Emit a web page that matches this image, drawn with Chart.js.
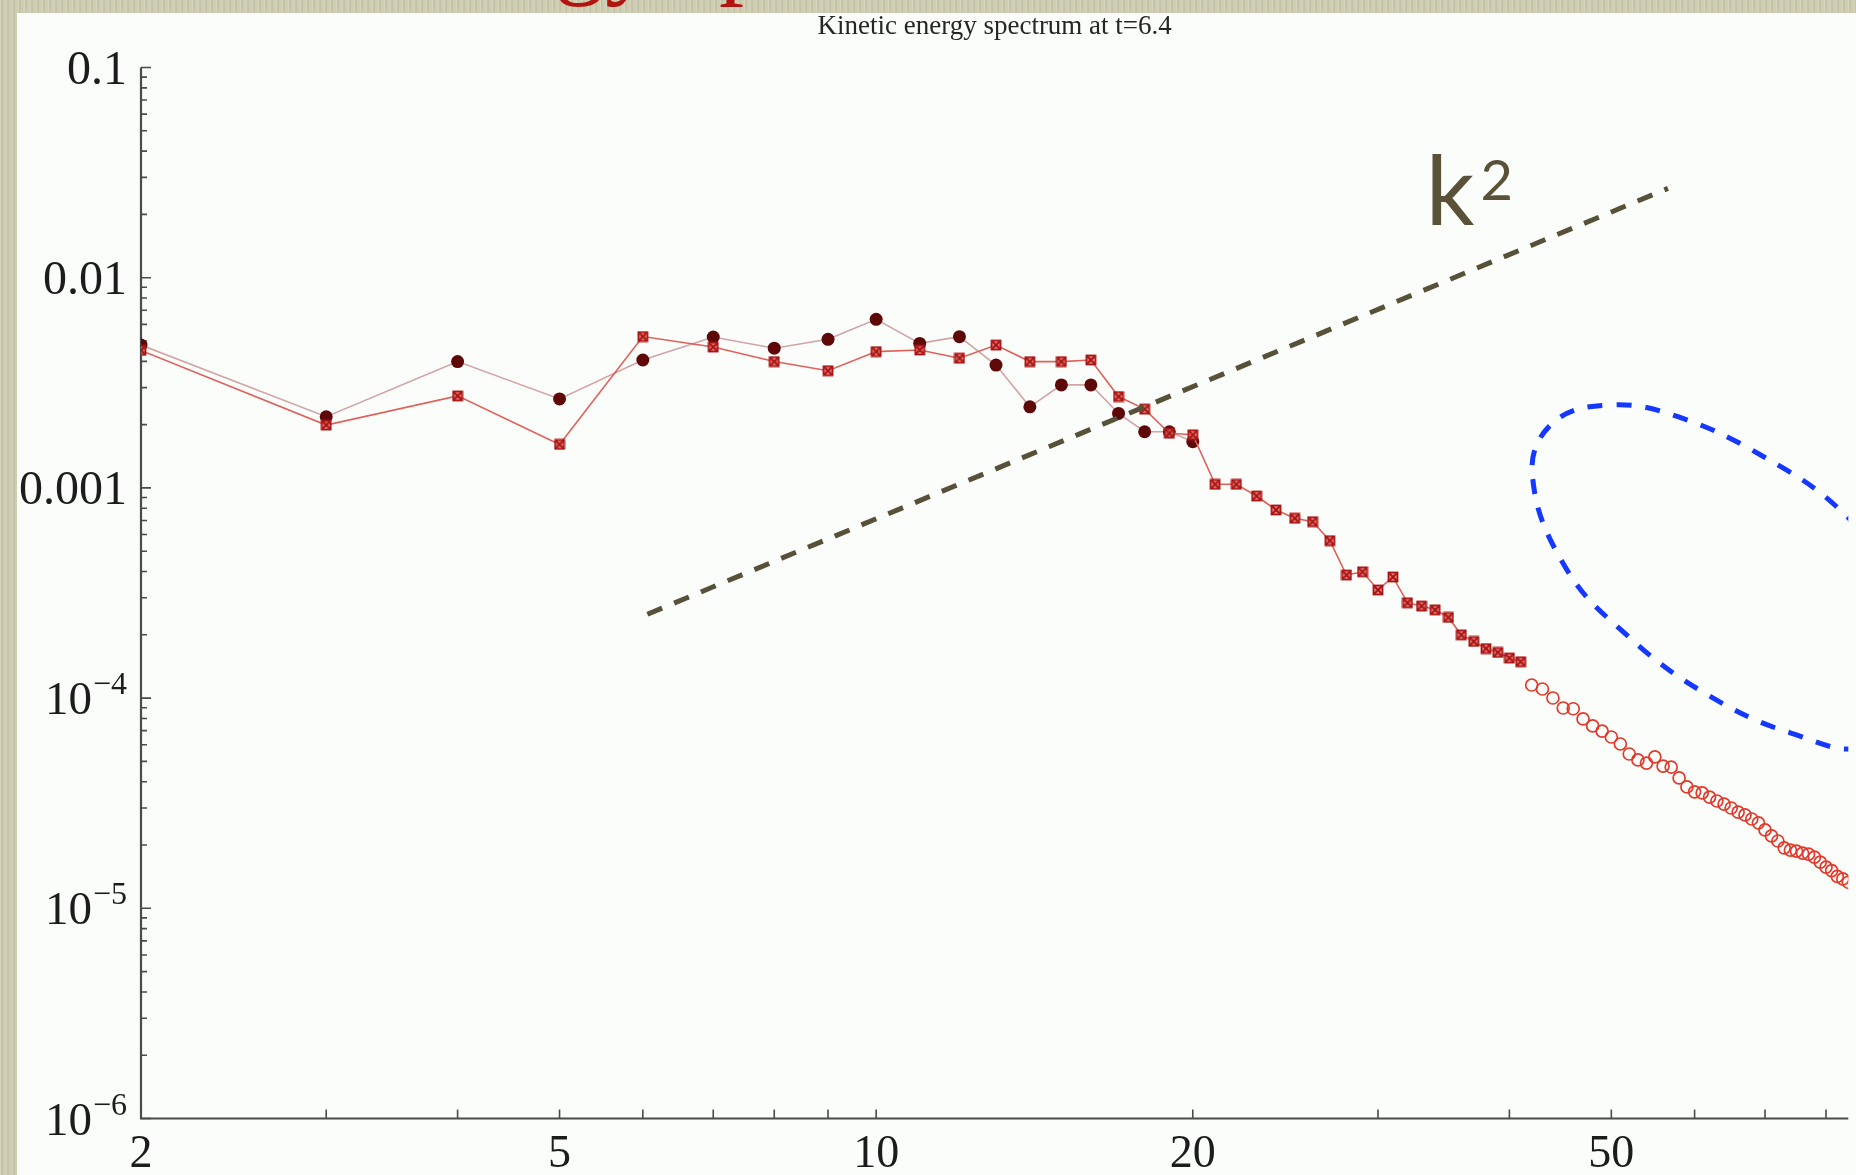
<!DOCTYPE html>
<html>
<head>
<meta charset="utf-8">
<script src="https://cdn.jsdelivr.net/npm/chart.js@4.4.1/dist/chart.umd.min.js"></script>
<style>
  html, body { margin: 0; padding: 0; width: 1856px; height: 1175px; overflow: hidden; }
  body {
    position: relative;
    background-color: #cfcdb2;
    background-image: repeating-linear-gradient(90deg,
      rgba(255,255,255,0.14) 0px, rgba(255,255,255,0.14) 1px,
      rgba(0,0,0,0.05) 1px, rgba(0,0,0,0.05) 3px,
      rgba(255,255,255,0) 3px, rgba(255,255,255,0) 6px);
  }
  #slideTitle {
    position: absolute; left: 368px; top: -97px;
    font: 100px/100px "Liberation Serif", serif; color: #b31410; white-space: nowrap;
  }
  #panel { position: absolute; left: 17px; top: 13px; right: 0; bottom: 0; background: #fbfdfb; }
  #myChart { position: absolute; left: 0; top: 0; }
</style>
</head>
<body>
<div id="slideTitle">Energy spectrum</div>
<div id="panel"></div>
<canvas id="myChart" width="1856" height="1175"></canvas>
<script>
// low-k run, filled circles
const kLow = [2,3,4,5,6,7,8,9,10,11,12,13,14,15,16,17,18,19,20];
const circleE = [4.78e-3,2.18e-3,3.99e-3,2.65e-3,4.06e-3,5.22e-3,4.62e-3,5.09e-3,6.34e-3,4.87e-3,
  5.24e-3,3.84e-3,2.43e-3,3.09e-3,3.09e-3,2.26e-3,1.85e-3,1.85e-3,1.66e-3];

// mid-k run, crossed squares
const kMid = [2,3,4,5,6,7,8,9,10,11,12,13,14,15,16,17,18,19,20,21,22,23,24,25,26,27,28,29,30,
  31,32,33,34,35,36,37,38,39,40,41];
const squareE = [4.51e-3,1.99e-3,2.74e-3,1.61e-3,5.25e-3,4.68e-3,3.99e-3,3.61e-3,4.45e-3,4.53e-3,
  4.14e-3,4.78e-3,3.99e-3,3.99e-3,4.06e-3,2.72e-3,2.37e-3,1.82e-3,1.79e-3,
  1.04e-3,1.04e-3,9.15e-4,7.85e-4,7.17e-4,6.91e-4,5.61e-4,3.85e-4,3.99e-4,3.27e-4,3.77e-4,
  2.84e-4,2.74e-4,2.63e-4,2.42e-4,2.00e-4,1.86e-4,1.72e-4,1.65e-4,1.55e-4,1.49e-4];

// high-k tail, open circles
const kHigh = [42,43,44,45,46,47,48,49,50,51,52,53,54,55,56,57,58,59,60,61,62,63,64,65,66,67,68,
  69,70,71,72,73,74,75,76,77,78,79,80,81,82,83,84];
const openE = [1.154e-4,1.105e-4,1.001e-4,8.97e-5,8.9e-5,7.96e-5,7.37e-5,6.97e-5,6.53e-5,6.05e-5,
  5.42e-5,5.08e-5,4.91e-5,5.25e-5,4.75e-5,4.70e-5,4.17e-5,3.78e-5,3.58e-5,3.54e-5,
  3.38e-5,3.24e-5,3.13e-5,3.00e-5,2.87e-5,2.78e-5,2.66e-5,2.55e-5,2.36e-5,2.21e-5,
  2.09e-5,1.94e-5,1.89e-5,1.87e-5,1.83e-5,1.81e-5,1.75e-5,1.66e-5,1.57e-5,1.51e-5,
  1.42e-5,1.38e-5,1.33e-5];

// k^2 guide line ends
const guideK = [6.06, 56.6];
const guideE = [2.505e-4, 2.66e-2];

// dashed loop around the tail
const loopK = [95.19,92.4,82.63,69.87,57.94,50.07,44.1,42.05,45.2,51.96,61.33,74.09,87.25,95.19];
const loopE = [1.518e-4,3.75e-4,7.80e-4,1.403e-3,2.175e-3,2.480e-3,2.06e-3,1.177e-3,4.204e-4,
  1.953e-4,1.057e-4,6.82e-5,6.05e-5,1.518e-4];

// axis ticks
const xTickVals = [2, 5, 10, 20, 50];
const xTickLabels = ['2', '5', '10', '20', '50'];
const yTickVals = [1e-6, 1e-5, 1e-4, 1e-3, 1e-2, 1e-1];
const yTickLabels = ['10^\u22126', '10^\u22125', '10^\u22124', '0.001', '0.01', '0.1'];

const plotTitle = 'Kinetic energy spectrum at t=6.4';

function pairs(xs, ys) {
  return xs.map((x, i) => ({x: x, y: ys[i]}));
}

function crossSquare(size, color) {
  const c = document.createElement('canvas');
  c.width = size; c.height = size;
  const g = c.getContext('2d');
  g.fillStyle = 'rgba(232,110,105,0.85)';
  g.fillRect(1, 1, size - 2, size - 2);
  g.strokeStyle = color;
  g.lineWidth = 1.8;
  g.strokeRect(1.5, 1.5, size - 3, size - 3);
  g.beginPath();
  g.moveTo(2, 2); g.lineTo(size - 2, size - 2);
  g.moveTo(size - 2, 2); g.lineTo(2, size - 2);
  g.stroke();
  return c;
}

// frame, inward ticks and labels, drawn under the data
const axesPlugin = {
  id: 'frameAxes',
  beforeDatasetsDraw(chart) {
    const {ctx, chartArea: a, scales: {x, y}} = chart;
    ctx.save();
    ctx.strokeStyle = '#4a4a4a';
    ctx.lineWidth = 2.2;
    ctx.beginPath();
    ctx.moveTo(a.left, a.top);
    ctx.lineTo(a.left, a.bottom);
    ctx.lineTo(a.right, a.bottom);
    ctx.stroke();

    ctx.lineWidth = 1.6;
    ctx.beginPath();
    for (let e = -6; e <= -1; e++) {
      for (let m = 1; m <= 9; m++) {
        const v = m * Math.pow(10, e);
        if (v > 0.1001) break;
        const py = y.getPixelForValue(v);
        const len = m === 1 ? 10 : 6;
        ctx.moveTo(a.left, py);
        ctx.lineTo(a.left + len, py);
      }
    }
    for (let e = 0; e <= 2; e++) {
      for (let m = 1; m <= 9; m++) {
        const v = m * Math.pow(10, e);
        if (v < 2 || v > x.max) continue;
        const px = x.getPixelForValue(v);
        ctx.moveTo(px, a.bottom);
        ctx.lineTo(px, a.bottom - 9);
      }
    }
    ctx.stroke();

    ctx.fillStyle = '#1c1c1c';
    ctx.textBaseline = 'alphabetic';
    ctx.textAlign = 'center';
    ctx.font = '46px "Liberation Serif", serif';
    xTickVals.forEach((v, i) => {
      ctx.fillText(xTickLabels[i], x.getPixelForValue(v), a.bottom + 48);
    });

    ctx.textAlign = 'right';
    const right = a.left - 14;
    yTickVals.forEach((v, i) => {
      const py = y.getPixelForValue(v);
      const parts = yTickLabels[i].split('^');
      if (parts.length === 2) {
        ctx.font = '32px "Liberation Serif", serif';
        const w = ctx.measureText(parts[1]).width;
        ctx.fillText(parts[1], right, py - 4);
        ctx.font = '47px "Liberation Serif", serif';
        ctx.fillText(parts[0], right - w - 1, py + 16);
      } else {
        ctx.font = '48px "Liberation Serif", serif';
        ctx.fillText(parts[0], right, py + 16);
      }
    });

    ctx.font = '27px "Liberation Serif", serif';
    ctx.textAlign = 'center';
    ctx.fillStyle = '#262626';
    ctx.textBaseline = 'middle';
    ctx.fillText(plotTitle, (a.left + a.right) / 2, 27);
    ctx.restore();
  },
  afterDatasetsDraw(chart) {
    // k^2 label next to the guide line
    const {ctx, scales: {x, y}} = chart;
    const px = x.getPixelForValue(33.3);
    const py = y.getPixelForValue(0.0178);
    ctx.save();
    ctx.fillStyle = '#5a5139';
    ctx.textBaseline = 'alphabetic';
    ctx.textAlign = 'left';
    ctx.font = '96px Lato, "Open Sans", sans-serif';
    ctx.fillText('k', px, py);
    const kw = ctx.measureText('k').width;
    ctx.font = '56px Lato, "Open Sans", sans-serif';
    ctx.fillText('2', px + kw + 6, py - 25);
    ctx.restore();
  }
};

const data = {
  datasets: [
    {
      label: 'loop',
      data: pairs(loopK, loopE),
      borderColor: '#1438ff',
      borderWidth: 5,
      borderDash: [15, 14],
      pointRadius: 0,
      tension: 0.4,
      capBezierPoints: false,
      fill: false,
      order: 0
    },
    {
      label: 'k^2',
      data: pairs(guideK, guideE),
      borderColor: '#57513a',
      borderWidth: 5,
      borderDash: [16, 13],
      pointRadius: 0,
      fill: false,
      order: 0
    },
    {
      label: 'open',
      data: pairs(kHigh, openE),
      showLine: false,
      pointStyle: 'circle',
      pointRadius: 6,
      pointBorderWidth: 1.7,
      pointBorderColor: '#e2392b',
      pointBackgroundColor: 'rgba(255,255,255,0)',
      order: 1
    },
    {
      label: 'squares',
      data: pairs(kMid, squareE),
      borderColor: '#e0605a',
      borderWidth: 1.6,
      pointStyle: crossSquare(12, '#a81414'),
      order: 2
    },
    {
      label: 'circles',
      data: pairs(kLow, circleE),
      borderColor: '#d2a4a4',
      borderWidth: 1.6,
      pointStyle: 'circle',
      pointRadius: 6.5,
      pointBorderWidth: 0,
      pointBackgroundColor: '#5e0808',
      order: 3
    }
  ]
};

const config = {
  type: 'line',
  data: data,
  options: {
    responsive: false,
    animation: false,
    devicePixelRatio: 1,
    layout: { padding: { left: 141, top: 67.5, right: 0, bottom: 56.5 } },
    plugins: { legend: { display: false }, title: { display: false }, tooltip: { enabled: false } },
    scales: {
      x: { type: 'logarithmic', min: 2, max: 84, display: false },
      y: { type: 'logarithmic', min: 1e-6, max: 0.1, display: false }
    }
  },
  plugins: [axesPlugin]
};

const myChart = new Chart(document.getElementById('myChart'), config);
</script>
</body>
</html>
